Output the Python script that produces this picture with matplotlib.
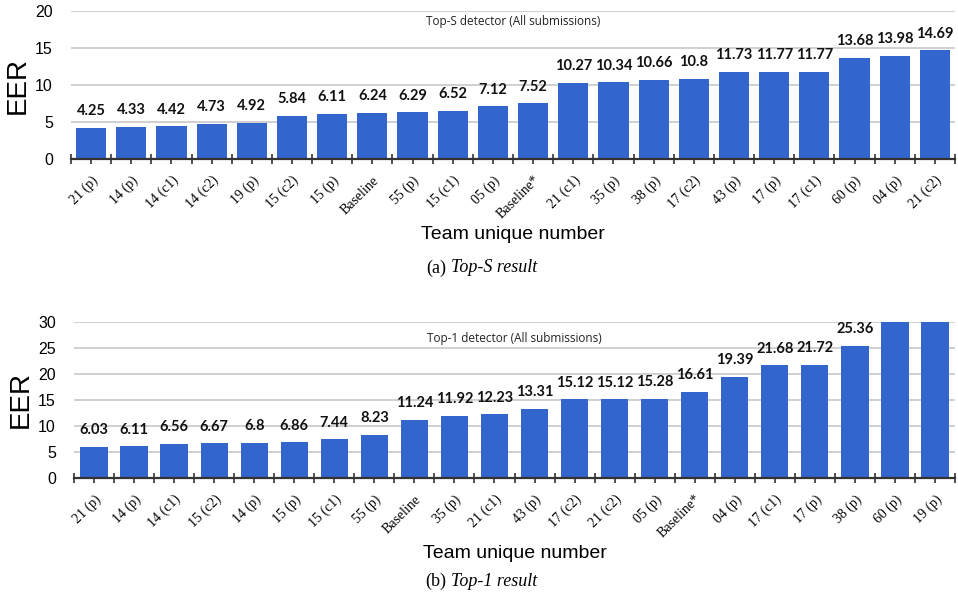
import matplotlib
matplotlib.use("Agg")
import matplotlib.pyplot as plt
import numpy as np

BLUE = "#3366cc"
GRID = "#c8c8c8"

# ---------- data ----------
top_s_labels = ["21 (p)", "14 (p)", "14 (c1)", "14 (c2)", "19 (p)", "15 (c2)", "15 (p)", "Baseline",
                "55 (p)", "15 (c1)", "05 (p)", "Baseline*", "21 (c1)", "35 (p)", "38 (p)", "17 (c2)",
                "43 (p)", "17 (p)", "17 (c1)", "60 (p)", "04 (p)", "21 (c2)"]
top_s_values = [4.25, 4.33, 4.42, 4.73, 4.92, 5.84, 6.11, 6.24, 6.29, 6.52, 7.12, 7.52, 10.27, 10.34,
                10.66, 10.8, 11.73, 11.77, 11.77, 13.68, 13.98, 14.69]

top_1_labels = ["21 (p)", "14 (p)", "14 (c1)", "15 (c2)", "14 (p)", "15 (p)", "15 (c1)", "55 (p)",
                "Baseline", "35 (p)", "21 (c1)", "43 (p)", "17 (c2)", "21 (c2)", "05 (p)", "Baseline*",
                "04 (p)", "17 (c1)", "17 (p)", "38 (p)", "60 (p)", "19 (p)"]
top_1_values = [6.03, 6.11, 6.56, 6.67, 6.8, 6.86, 7.44, 8.23, 11.24, 11.92, 12.23, 13.31, 15.12, 15.12,
                15.28, 16.61, 19.39, 21.68, 21.72, 25.36, 31.0, 32.0]


def panel(ax, labels, values, ymax, ystep, title, title_y, width):
    n = len(values)
    x = np.arange(n)
    ax.bar(x, values, width, color=BLUE, zorder=3)
    for xi, v in zip(x, values):
        if v <= ymax:
            ax.annotate(f"{v:g}", (xi, v), xytext=(0, 7), textcoords="offset points",
                        ha="center", va="bottom", fontsize=10.5, fontweight="bold",
                        family="Lato", color="#111")
    ax.set_xlim(-0.5, n - 0.5)
    ax.set_ylim(0, ymax)
    ax.set_yticks(np.arange(0, ymax + 0.1, ystep))
    ax.grid(axis="y", color=GRID, lw=1.2, zorder=0)
    ax.set_xticks(np.arange(-0.5, n, 1.0))
    ax.set_xticklabels([])
    ax.set_xticks(x, minor=True)
    ax.set_xticklabels(labels, minor=True, rotation=45, ha="right", va="top",
                       rotation_mode="anchor", family="Liberation Serif", fontsize=10)
    ax.tick_params(axis="x", which="both", direction="inout", length=7, width=1.2,
                   color="#333", pad=4)
    ax.tick_params(axis="x", which="minor", pad=7)
    ax.tick_params(axis="y", length=0, labelsize=11.5, pad=13)
    for lab in ax.get_yticklabels():
        lab.set_family("Liberation Sans")
    for s in ("top", "right", "left"):
        ax.spines[s].set_visible(False)
    ax.spines["bottom"].set_color("#333")
    ax.spines["bottom"].set_linewidth(1.6)
    ax.spines["bottom"].set_zorder(4)
    ax.set_ylabel("EER", fontsize=20, family="Liberation Sans", labelpad=3)
    ax.set_xlabel("Team unique number", fontsize=14, family="Liberation Sans", labelpad=3)
    ax.text(0.5, title_y, title, transform=ax.transAxes, ha="center", va="center",
            fontsize=8.5, family="Open Sans", color="#222")


fig = plt.figure(figsize=(9.58, 5.96), dpi=100)
ax1 = fig.add_axes((71 / 958, 1 - 159 / 596, 884 / 958, 148 / 596))
panel(ax1, top_s_labels, top_s_values, 20, 5, "Top-S detector (All submissions)", 0.93, 0.75)
ax2 = fig.add_axes((74 / 958, 1 - 478 / 596, 881 / 958, 156 / 596))
panel(ax2, top_1_labels, top_1_values, 30, 5, "Top-1 detector (All submissions)", 0.895, 0.68)

for y, tag, rest in ((268, "(a)", "Top-S result"), (581, "(b)", "Top-1 result")):
    fig.text(446 / 958, 1 - y / 596, tag, ha="right", va="center", fontsize=13,
             family="Liberation Serif")
    fig.text(451 / 958, 1 - y / 596, rest, ha="left", va="center", fontsize=13,
             family="Liberation Serif", style="italic")

fig.savefig("out.png", dpi=100)
